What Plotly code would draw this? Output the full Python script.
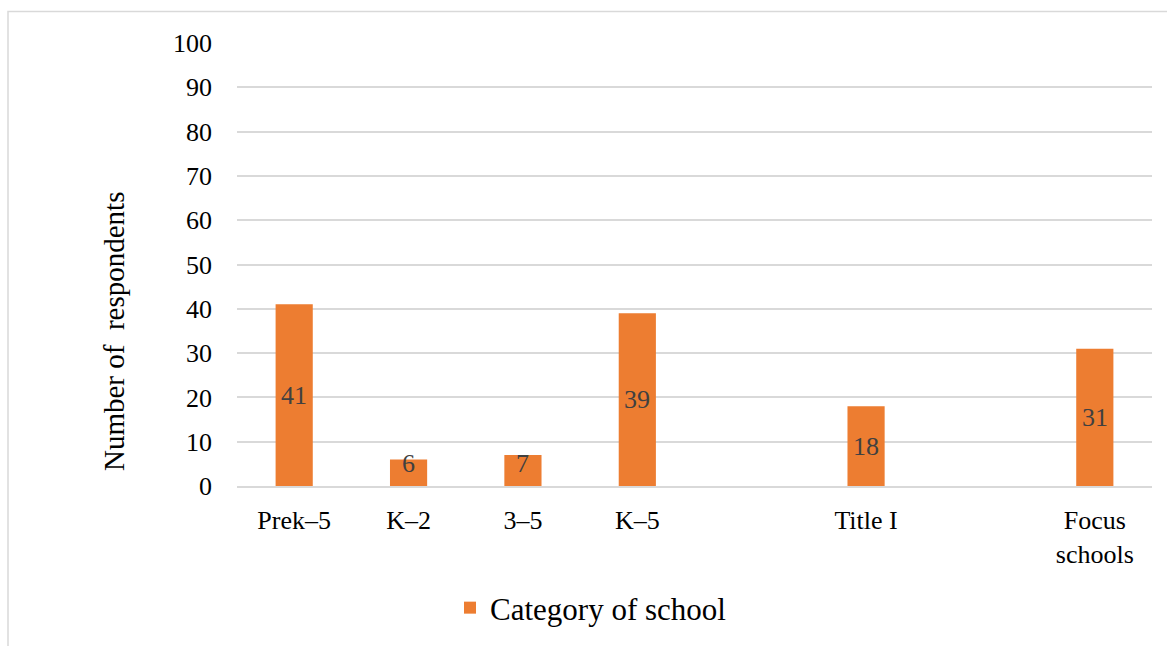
import plotly.graph_objects as go

categories = ["Prek–5", "K–2", "3–5", "K–5", " ", "Title I", "  ", "Focus<br>schools"]
values = [41, 6, 7, 39, None, 18, None, 31]
series_name = "Category of school"
y_ticks = [0, 10, 20, 30, 40, 50, 60, 70, 80, 90, 100]

FONT = "'Times New Roman', 'Liberation Serif', 'DejaVu Serif', serif"
ORANGE = "#ED7D31"

fig = go.Figure()
fig.add_trace(go.Bar(
    x=categories, y=values, name=series_name,
    marker=dict(color=ORANGE, line=dict(width=0)),
    showlegend=True,
))

for c, v in zip(categories, values):
    if v is None:
        continue
    fig.add_annotation(x=c, y=max(v / 2, 5), text=str(v), showarrow=False,
                       font=dict(family=FONT, size=26, color="#404040"),
                       xref="x", yref="y", yanchor="middle")

W, H = 1167, 646
L, R, T, B = 237, 15, 43, 160
pw, ph = W - L - R, H - T - B

def px_x(p):
    return (p - L) / pw

def px_y(p):
    return (H - B - p) / ph

fig.add_shape(type="rect", xref="paper", yref="paper",
              x0=px_x(8), x1=px_x(W + 20), y0=px_y(H + 20), y1=px_y(11.5),
              line=dict(color="#D9D9D9", width=1.5), fillcolor="rgba(0,0,0,0)", layer="below")

fig.add_annotation(xref="paper", yref="paper", x=px_x(114), y=px_y(332),
                   text="Number of  respondents", textangle=-90, showarrow=False,
                   font=dict(family=FONT, size=29, color="#000000"),
                   xanchor="center", yanchor="middle")

fig.update_layout(
    width=W, height=H,
    margin=dict(l=L, r=R, t=T, b=B, autoexpand=False),
    paper_bgcolor="white", plot_bgcolor="white",
    bargap=0.675,
    font=dict(family=FONT, size=26, color="#000000"),
    legend=dict(orientation="h", x=px_x(450), y=px_y(608), xanchor="left", yanchor="middle",
                font=dict(family=FONT, size=31, color="#000000"),
                bgcolor="rgba(0,0,0,0)", itemsizing="constant"),
    xaxis=dict(type="category", showgrid=False, showline=True, linecolor="#D9D9D9", linewidth=1.5,
               ticks="", tickfont=dict(family=FONT, size=26, color="#000000"),
               ticklabelstandoff=10, range=[-0.5, 7.5]),
    yaxis=dict(range=[0, 100], tickvals=y_ticks, showgrid=True, gridcolor="#D9D9D9", gridwidth=1.5,
               zeroline=False, showline=False, ticks="",
               tickfont=dict(family=FONT, size=26, color="#000000"),
               ticklabelstandoff=24),
)

fig.write_html("out.html")
